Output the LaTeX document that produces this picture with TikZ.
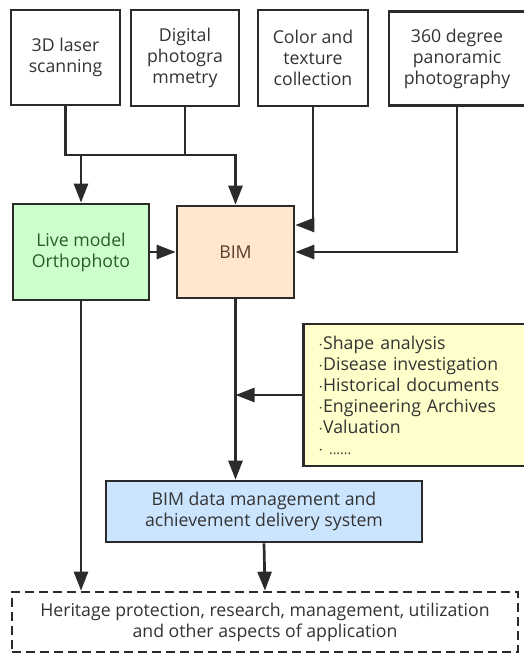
\documentclass[tikz,border=0pt]{standalone}
\usepackage{fontspec}
\setmainfont{Open Sans}
\usetikzlibrary{arrows.meta,positioning,calc}
\definecolor{linegray}{HTML}{2B2B2B}
\definecolor{textgray}{HTML}{333333}
\definecolor{livefill}{HTML}{CCFFCC}
\definecolor{livetext}{HTML}{2D5A2D}
\definecolor{bimfill}{HTML}{FFE6CC}
\definecolor{bimtext}{HTML}{5A3D2E}
\definecolor{infofill}{HTML}{FFFFCC}
\definecolor{sysfill}{HTML}{CCE5FF}

\begin{document}
\begin{tikzpicture}[
    x=1pt, y=-1pt,
    font=\fontsize{17.7}{21}\selectfont,
    box/.style={draw=linegray, line width=2.7pt, fill=white, text=textgray, align=center, inner sep=0pt},
    line/.style={draw=linegray, line width=2.7pt},
    arr/.style={line, -{Triangle[length=19pt, width=14pt]}},
  ]
\clip (0,0) rectangle (524,654);
\fill[white] (0,0) rectangle (524,654);

% sources
\node[box, minimum width=109pt, minimum height=95pt] (laser) at (65.5,57.5) {3D laser\\scanning};
\node[box, minimum width=108pt, minimum height=96pt] (photo) at (185,58) {Digital\\photogra\\mmetry};
\node[box, minimum width=110pt, minimum height=96pt] (color) at (313,58) {Color and\\texture\\collection};
\node[box, minimum width=136pt, minimum height=94pt] (pano) at (457,58.5) {360 degree\\panoramic\\photography};

% models
\node[box, fill=livefill, text=livetext, minimum width=136pt, minimum height=96pt] (live) at (81,252) {Live model\\Orthophoto};
\node[box, fill=bimfill, text=bimtext, minimum width=117pt, minimum height=92pt] (bim) at (235.5,252) {BIM};
\node[box, fill=infofill, anchor=west, align=left, text width=198pt, inner xsep=15pt, minimum height=142pt] (info) at (302,395)
  {$\cdot$Shape analysis\\$\cdot$Disease investigation\\$\cdot$Historical documents\\$\cdot$Engineering Archives\\$\cdot$Valuation\\$\cdot$ {\fontsize{14}{21}\selectfont......}};
\node[box, fill=sysfill, minimum width=316pt, minimum height=61pt] (sys) at (264,511.5) {BIM data management and\\achievement delivery system};
\node[box, dashed, dash pattern=on 9pt off 5pt, minimum width=506pt, minimum height=60pt] (app) at (265,622)
  {Heritage protection, research, management, utilization\\and other aspects of application};

% connectors
\coordinate (split) at (185,155);
\draw[line] (laser.south) |- (split);
\draw[line] (photo.south) -- (split);
\draw[arr] (laser.south |- split) -| (live.north);
\draw[arr] (split) -| (bim.north);
\draw[arr] (color.south) |- ([yshift=27pt]bim.east);
\draw[arr] (pano.south) |- (bim.east);
\draw[arr] (live) -- (bim);
\draw[arr] (live.south) -- (live.south |- app.north);
\draw[arr] (bim.south) -- (bim.south |- sys.north);
\draw[arr] (info.west) -- (info.west -| bim.south);
\draw[arr] (sys.south) -- (app.north);

\end{tikzpicture}
\end{document}
